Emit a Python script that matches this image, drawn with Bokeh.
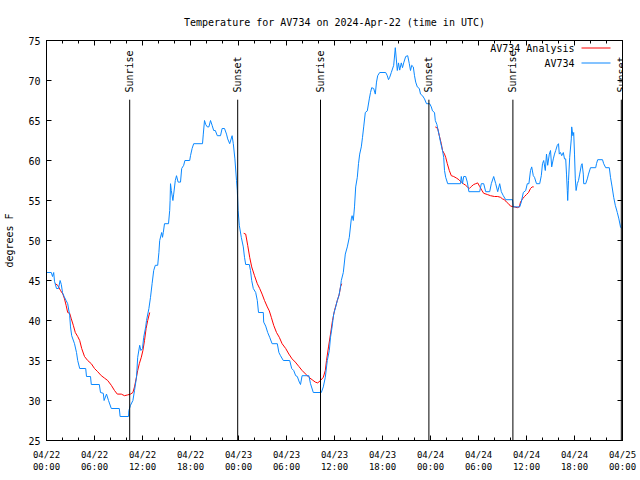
import math
from bokeh.plotting import figure
from bokeh.models import FixedTicker, LinearAxis, Range1d, Label, BoxAnnotation, CustomJSTickFormatter
from bokeh.embed import file_html
from bokeh.resources import INLINE
from bokeh.core.properties import value

NAN = float("nan")

# Observations (hours since 2024-04-22 00:00 UTC, degrees F)
obs_hours = [0.0, 0.6, 0.75, 0.9, 1.0, 1.25, 1.5, 1.7, 1.85, 2.0, 2.2, 2.45, 2.65, 2.9, 3.0, 3.15, 3.5,
             3.75, 3.9, 4.15, 4.9, 5.0, 5.5, 5.6, 6.6, 6.75, 7.1, 7.2, 7.5, 7.75, 8.1, 9.1, 9.2, 10.25,
             10.3, 10.5, 10.8, 11.0, 11.25, 11.4, 11.65, 11.8, 12.0, 12.15, 12.4, 12.5, 12.8, 13.0, 13.2,
             13.4, 13.6, 13.9, 14.05, 14.15, 14.4, 14.5, 14.6, 14.75, 15.25, 15.4, 15.45, 15.5, 15.6,
             15.8, 15.9, 16.1, 16.25, 16.45, 16.75, 16.9, 17.15, 17.3, 17.9, 18.0, 18.2, 18.4, 19.5,
             19.6, 19.75, 19.9, 20.1, 20.3, 20.5, 20.7, 20.9, 21.1, 21.35, 21.75, 21.95, 22.25, 22.5,
             22.65, 22.9, 23.2, 23.35, 23.55, 23.75, 23.85, 23.95, 24.1, 24.35, 24.6, 24.75, 24.9,
             25.35, 25.5, 25.65, 25.85, 26.15, 26.35, 26.5, 27.1, 27.15, 27.4, 27.65, 27.9, 28.2,
             28.85, 29.05, 29.25, 29.6, 30.4, 30.65, 30.9, 31.15, 31.35, 31.6, 31.75, 31.95, 32.8,
             33.0, 33.35, 34.35, 34.6, 34.85, 35.1, 35.35, 35.5, 35.7, 35.9, 36.15, 36.35, 36.55,
             36.75, 36.85, 37.1, 37.35, 37.6, 37.85, 38.1, 38.2, 38.35, 38.5, 38.65, 38.85, 39.0,
             39.15, 39.35, 39.5, 39.65, 39.85, 40.1, 40.35, 40.5, 40.65, 40.9, 41.1, 41.25, 41.4,
             41.65, 42.4, 42.6, 42.75, 42.9, 43.1, 43.4, 43.6, 43.85, 44.0, 44.15, 44.35, 44.5,
             44.65, 44.9, 45.15, 45.35, 45.5, 45.65, 45.85, 46.0, 46.15, 46.35, 46.6, 46.75, 47.0,
             47.25, 47.5, 47.9, 48.1, 48.25, 48.5, 48.6, 48.8, 48.9, 49.1, 49.25, 49.5, 49.65,
             49.75, 49.9, 50.15, 51.75, 51.85, 52.0, 52.15, 52.4, 52.6, 52.8, 54.15, 54.35, 54.65,
             54.9, 55.4, 55.6, 55.9, 56.15, 56.4, 56.65, 56.85, 57.1, 57.4, 58.25, 58.35, 59.15,
             59.35, 59.6, 59.9, 60.1, 60.3, 60.5, 60.65, 60.85, 61.0, 61.25, 61.65, 61.85, 62.0,
             62.15, 62.35, 62.5, 62.65, 62.85, 63.0, 63.15, 63.35, 63.5, 63.65, 63.85, 64.0, 64.1,
             64.25, 64.4, 64.6, 64.75, 64.9, 65.0, 65.1, 65.15, 65.25, 65.4, 65.6, 65.65, 65.8,
             65.9, 66.0, 66.1, 66.2, 66.35, 66.5, 66.65, 66.85, 66.95, 67.1, 67.15, 67.4, 67.6,
             67.75, 68.0, 68.65, 68.75, 68.9, 69.5, 69.65, 69.9, 70.35, 70.5, 70.7, 70.9, 71.1,
             71.35, 71.55, 71.75, 71.9]
obs_temp = [46.0, 46.0, 45.5, 46.0, 44.9, 44.0, 44.0, 45.0, 44.5, 43.5, 43.0, 42.5, 42.1, 40.6, 39.2, 38.1, 37.1,
            36.0, 35.0, 34.0, 34.0, 33.0, 33.0, 32.0, 32.0, 31.0, 30.9, 30.0, 30.8, 30.0, 29.0, 29.0, 28.0, 28.0,
            28.75, 29.4, 30.0, 31.25, 32.9, 35.4, 36.9, 36.25, 36.5, 37.9, 39.2, 40.0, 41.5, 42.9, 44.6,
            46.25, 46.9, 46.9, 48.5, 50.0, 51.0, 50.4, 51.0, 52.1, 52.1, 53.75, 55.0, 57.1, 56.25,
            55.0, 55.8, 57.5, 58.1, 57.3, 57.3, 59.0, 59.4, 60.0, 60.0, 60.6, 61.5, 62.1, 62.1,
            63.3, 65.0, 64.5, 64.2, 64.2, 65.0, 64.4, 63.75, 63.75, 63.1, 63.1, 64.0, 64.0, 63.3,
            62.7, 62.1, 63.1, 62.1, 60.2, 57.5, 56.25, 53.75, 51.9, 50.4, 49.2, 47.9, 47.0,
            47.0, 46.25, 45.0, 44.0, 43.5, 42.5, 41.0, 41.0, 39.8, 39.3, 38.5, 37.9, 37.1,
            37.1, 36.0, 35.6, 35.0, 35.0, 34.0, 33.75, 33.1, 33.0, 32.3, 32.0, 33.1, 33.1,
            32.1, 31.0, 31.0, 31.7, 32.9, 35.0, 36.25, 37.9, 39.2, 40.8, 41.7, 42.5, 43.1,
            44.2, 45.0, 46.0, 48.3, 49.2, 50.4, 52.7, 53.1, 52.5, 54.2, 56.7, 57.9, 59.6,
            60.8, 61.7, 62.9, 64.2, 66.0, 66.2, 67.7, 68.5, 69.1, 69.0, 68.3, 69.8, 70.6,
            71.0, 71.0, 70.6, 70.1, 70.4, 71.0, 71.9, 74.1, 71.25, 72.2, 71.3, 72.2, 71.6,
            72.2, 73.0, 73.1, 72.1, 71.25, 71.9, 71.7, 70.6, 69.8, 69.2, 69.0, 68.3, 68.1,
            67.7, 67.1, 67.1, 66.7, 66.2, 66.0, 65.0, 64.5, 64.0, 63.1, 62.3, 61.25, 60.4,
            58.75, 57.9, 57.1, 57.1, 58.0, 57.1, 58.0, 58.0, 57.3, 56.1, 56.1, 57.1, 57.1,
            56.1, 56.1, 57.1, 58.0, 57.1, 56.1, 57.1, 56.1, 55.6, 55.1, 55.1, 54.2, 54.2,
            54.8, 56.0, 56.25, 57.1, 57.1, 58.75, 59.2, 58.1, 57.9, 57.1, 57.1, 58.1, 59.6,
            60.0, 58.75, 60.8, 59.4, 60.8, 61.25, 59.2, 60.2, 60.8, 61.25, 61.9, 62.1, 60.8,
            61.0, 60.6, 61.0, 60.2, 60.2, 58.3, 56.25, 55.0, 57.5, 60.4, 62.7, 64.2, 63.1,
            63.5, 60.8, 57.7, 56.25, 57.1, 57.5, 58.3, 59.4, 59.6, 58.3, 57.1, 57.1, 57.7,
            58.3, 59.1, 59.1, 59.6, 60.1, 60.1, 59.6, 59.1, 59.1, 57.9, 56.7, 55.4, 54.4,
            53.5, 52.7, 51.7, 51.5]

# Analysis (three segments separated by gaps)
ana_hours = [1.1, 1.4, 1.75, 2.05, 2.25, 2.45, 2.65, 2.9, 3.1, 3.35, 3.6, 3.9, 4.15, 4.4, 4.75, 5.15, 5.6,
             6.0, 6.4, 6.85, 7.25, 7.65, 8.1, 8.5, 8.85, 9.35, 9.75, 10.15, 10.5, 10.8, 11.0, 11.2,
             11.4, 11.6, 11.85, 12.05, 12.25, 12.45, 12.65, 12.9,
             NAN,
             24.65, 24.9, 25.15, 25.4, 25.65, 26.0, 26.35, 26.65, 26.95, 27.25, 27.6, 27.85, 28.1,
             28.4, 28.75, 29.1, 29.45, 29.9, 30.3, 30.7, 31.1, 31.55, 31.95, 32.4, 32.8, 33.2, 33.6,
             33.9, 34.25, 34.6, 34.85, 35.0, 35.25, 35.5, 35.75, 36.0, 36.35, 36.6, 36.75, 36.9,
             NAN,
             48.6, 48.9, 49.1, 49.35, 49.5, 49.75, 49.9, 50.1, 50.35, 50.6, 50.9, 51.25, 51.55,
             51.85, 52.1, 52.4, 52.6, 52.85, 53.1, 53.4, 53.65, 53.9, 54.15, 54.4, 54.65, 55.1,
             55.5, 56.0, 56.4, 56.75, 57.0, 57.25, 57.5, 57.75, 58.0, 58.25, 58.5, 58.85, 59.1,
             59.25, 59.5, 59.75, 60.0, 60.25, 60.5, 60.7, 60.9]
ana_temp = [44.6, 44.4, 43.75, 43.3, 42.7, 41.9, 41.0, 40.9, 40.2, 39.4, 38.5, 38.0, 37.5, 36.5, 35.5, 35.0, 34.6,
            34.0, 33.6, 33.1, 32.8, 32.5, 31.9, 31.25, 30.8, 30.8, 30.6, 30.7, 30.8, 31.0, 31.7, 32.7,
            33.75, 34.6, 35.4, 36.25, 37.5, 39.0, 40.0, 41.0,
            NAN,
            50.9, 50.8, 49.4, 47.9, 46.7, 45.6, 44.6, 44.0, 43.3, 42.5, 41.7, 41.2, 40.4,
            39.4, 38.5, 37.9, 37.1, 36.5, 35.8, 35.2, 34.8, 34.25, 33.75, 33.3, 32.9, 32.6, 32.3,
            32.2, 32.5, 32.9, 33.75, 35.0, 36.7, 38.3, 40.0, 41.25, 42.5, 43.3, 44.2, 44.6,
            NAN,
            64.2, 64.0, 63.1, 62.1, 61.25, 60.8, 60.4, 59.6, 58.75, 58.1, 58.0, 57.8, 57.6,
            57.3, 57.1, 56.9, 56.7, 56.5, 56.75, 57.0, 57.1, 57.2, 56.75, 56.3, 55.9, 55.75,
            55.6, 55.5, 55.5, 55.4, 55.2, 55.1, 54.8, 54.6, 54.3, 54.25, 54.2, 54.1, 54.2,
            54.8, 55.2, 55.5, 55.75, 56.0, 56.5, 56.7, 56.7]

sun_hours = [10.4, 23.9, 34.25, 47.8, 58.3, 71.85]
sun_labels = ["Sunrise", "Sunset", "Sunrise", "Sunset", "Sunrise", "Sunset"]

x_ticks = [0, 6, 12, 18, 24, 30, 36, 42, 48, 54, 60, 66, 72]
x_tick_labels = ["04/22\n00:00", "04/22\n06:00", "04/22\n12:00", "04/22\n18:00",
                 "04/23\n00:00", "04/23\n06:00", "04/23\n12:00", "04/23\n18:00",
                 "04/24\n00:00", "04/24\n06:00", "04/24\n12:00", "04/24\n18:00",
                 "04/25\n00:00"]
x_minor = list(range(0, 73, 2))
y_ticks = [25, 30, 35, 40, 45, 50, 55, 60, 65, 70, 75]

FONT = "DejaVu Sans Mono"
BLUE = "#0a88ff"

p = figure(width=640, height=480, output_backend="svg", toolbar_location=None,
           x_range=Range1d(0, 72), y_range=Range1d(25, 75),
           x_axis_location=None, y_axis_location=None,
           min_border_left=46, min_border_right=18, min_border_top=40, min_border_bottom=40)
p.grid.visible = False
p.outline_line_color = "black"
p.background_fill_color = "white"
p.border_fill_color = "white"

p.title.text = "Temperature for AV734 on 2024-Apr-22 (time in UTC)"
p.title.align = "center"
p.title.text_font = FONT
p.title.text_font_size = "10px"
p.title.text_font_style = "normal"
p.title.text_color = "black"
p.title.standoff = 26


def style(ax, show, size="10px"):
    ax.major_tick_in = 5
    ax.major_tick_out = 0
    ax.minor_tick_in = 3
    ax.minor_tick_out = 0
    ax.axis_line_color = "black"
    ax.major_tick_line_color = "black"
    ax.minor_tick_line_color = "black"
    ax.major_label_text_font = FONT
    ax.major_label_text_color = "black"
    ax.major_label_text_font_size = size
    if not show:
        ax.formatter = CustomJSTickFormatter(code="return ''")
        ax.major_label_standoff = 0


xb = LinearAxis(ticker=FixedTicker(ticks=x_ticks, minor_ticks=x_minor))
style(xb, True, "9px")
xb.major_label_overrides = {t: s for t, s in zip(x_ticks, x_tick_labels)}
xb.major_label_standoff = 9
p.add_layout(xb, "below")

xt = LinearAxis(ticker=FixedTicker(ticks=x_ticks, minor_ticks=x_minor))
style(xt, False)
p.add_layout(xt, "above")

yl = LinearAxis(ticker=FixedTicker(ticks=y_ticks, minor_ticks=[]))
style(yl, True, "10px")
yl.axis_label = "degrees F"
yl.axis_label_text_font = FONT
yl.axis_label_text_font_size = "10px"
yl.axis_label_text_font_style = "normal"
yl.axis_label_text_color = "black"
yl.major_label_standoff = 6
yl.axis_label_standoff = 10
p.add_layout(yl, "left")

yr = LinearAxis(ticker=FixedTicker(ticks=y_ticks, minor_ticks=[]))
style(yr, False)
p.add_layout(yr, "right")

# data
p.line(ana_hours, ana_temp, line_color="red", line_width=1)
p.line(obs_hours, obs_temp, line_color=BLUE, line_width=1)

# sunrise / sunset markers
p.segment(x0=sun_hours, x1=sun_hours, y0=[25] * len(sun_hours), y1=[67.6] * len(sun_hours),
          line_color="black", line_width=1)
p.text(x=sun_hours, y=[68.5] * len(sun_hours), text=sun_labels, angle=math.pi / 2,
       text_align="left", text_baseline="middle", text_font=value(FONT),
       text_font_size="10px", text_color="black")

# legend (text on the left, sample on the right)
for lbl, col, sy in [("AV734 Analysis", "red", 392), ("AV734", BLUE, 377)]:
    p.add_layout(Label(x=528, y=sy, x_units="screen", y_units="screen", text=lbl,
                       text_align="right", text_baseline="middle", text_font=FONT,
                       text_font_size="10px", text_color="black"))
    p.add_layout(BoxAnnotation(left=535, right=564, bottom=sy, top=sy + 1,
                               left_units="screen", right_units="screen",
                               bottom_units="screen", top_units="screen",
                               fill_color=col, fill_alpha=1, line_color=None))

open("out.html", "w").write(file_html(p, INLINE))
